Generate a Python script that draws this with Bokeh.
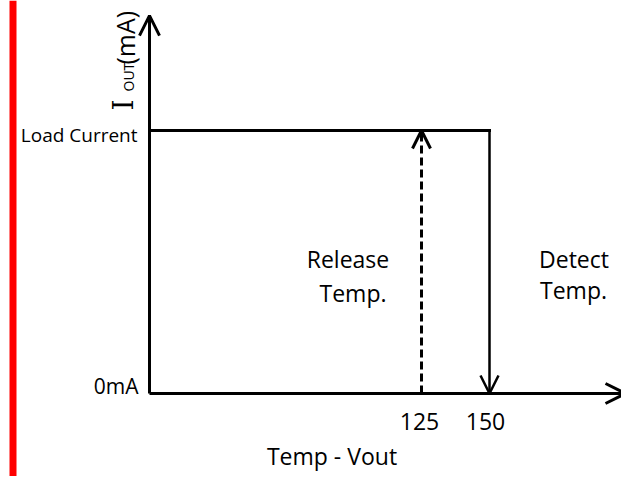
import math
from bokeh.plotting import figure
from bokeh.models import Range1d, Arrow, OpenHead, Span
from bokeh.core.properties import value
from bokeh.embed import file_html
from bokeh.resources import INLINE

# ---------------- data ----------------
release_temp = 125
detect_temp = 150
temp_ticks = [125, 150]
temp_tick_labels = ["125", "150"]
current_levels = [0, 1]
current_labels = ["0mA", "Load Current"]
x_axis_extent = [25, 200]      # temperature axis: origin -> arrow tip
y_axis_extent = [0, 1.437]     # current axis: origin -> arrow tip
x_axis_title = "Temp - Vout"
y_axis_title = ["I", "OUT", "(mA)"]
release_label = ["Release", "Temp."]
detect_label = ["Detect", "Temp."]

# ---------------- layout ----------------
W, H = 621, 476
PX_X = 2.72     # pixels per degree
PX_Y = 263.0    # pixels per unit of current
x0 = x_axis_extent[0]
y0 = current_levels[0]
load = current_levels[1]

def dx(px):
    return px / PX_X

def dy(px):
    return px / PX_Y

x_start = x0 - dx(149)
x_end = x_start + dx(W)
y_top = y0 + dy(393)
y_bottom = y_top - dy(H)

p = figure(width=W, height=H, output_backend="svg", toolbar_location=None,
           x_range=Range1d(x_start, x_end), y_range=Range1d(y_bottom, y_top),
           min_border=0, min_border_left=0, min_border_right=0,
           min_border_top=0, min_border_bottom=0)
p.axis.visible = False
p.grid.visible = False
p.outline_line_color = None
p.background_fill_color = "white"
p.border_fill_color = "white"

# red decorative bar at the left
p.add_layout(Span(location=x_start + dx(12.5), dimension="height",
                  line_color="#ff0000", line_width=7))

BLACK = "#000000"

# axes with arrows
p.add_layout(Arrow(x_start=x_axis_extent[0], y_start=y0, x_end=x_axis_extent[1], y_end=y0,
                   line_width=3, line_color=BLACK,
                   end=OpenHead(size=20, line_width=3, line_color=BLACK)))
p.add_layout(Arrow(x_start=x0, y_start=y_axis_extent[0], x_end=x0, y_end=y_axis_extent[1],
                   line_width=3, line_color=BLACK,
                   end=OpenHead(size=20, line_width=3, line_color=BLACK)))

# load current level line
p.line(x=[x0, detect_temp], y=[load, load], line_width=3, line_color=BLACK,
       line_cap="square")

# detect: solid down arrow
p.add_layout(Arrow(x_start=detect_temp, y_start=load, x_end=detect_temp, y_end=y0,
                   line_width=2.5, line_color=BLACK,
                   end=OpenHead(size=18, line_width=2.5, line_color=BLACK)))
# release: dashed up arrow
p.add_layout(Arrow(x_start=release_temp, y_start=y0, x_end=release_temp, y_end=load,
                   line_width=3, line_color=BLACK, line_dash="8 4",
                   end=OpenHead(size=18, line_width=3, line_color=BLACK)))

def label(x, y, t, size, align="center", font="Open Sans", angle=0.0):
    p.text(x=[x], y=[y], text=[t], text_font=value(font),
           text_font_size=f"{size}px", text_align=align,
           text_baseline="middle", text_color=BLACK, angle=angle)

# tick labels on the temperature axis
for t, lab, off in zip(temp_ticks, temp_tick_labels, [-2, -4]):
    label(t + dx(off), y0 - dy(28), lab, 23)

# current level labels
label(x0 - dx(11), y0 + dy(7.5), current_labels[0], 21, align="right")
label(x0 - dx(12), load - dy(4), current_labels[1], 19, align="right")

# release / detect annotations
label(release_temp - dx(73.5), y0 + dy(134.5), release_label[0], 23)
label(release_temp - dx(68.5), y0 + dy(101), release_label[1], 23)
label(detect_temp + dx(84.5), y0 + dy(134.5), detect_label[0], 23)
label(detect_temp + dx(84), y0 + dy(103.5), detect_label[1], 23)

# x axis title (kept inside the figure)
label(release_temp - dx(89.5), y0 - dy(62), x_axis_title, 23)

# y axis title (rotated, with subscript)
ang = math.pi / 2
label(x0 - dx(26.5), load + dy(20), y_axis_title[0], 28, align="left",
      font="DejaVu Serif", angle=ang)
label(x0 - dx(21.5), load + dy(39), y_axis_title[1], 14, align="left", angle=ang)
label(x0 - dx(25), load + dy(66), y_axis_title[2], 25, align="left", angle=ang)

open("out.html", "w").write(file_html(p, INLINE))
